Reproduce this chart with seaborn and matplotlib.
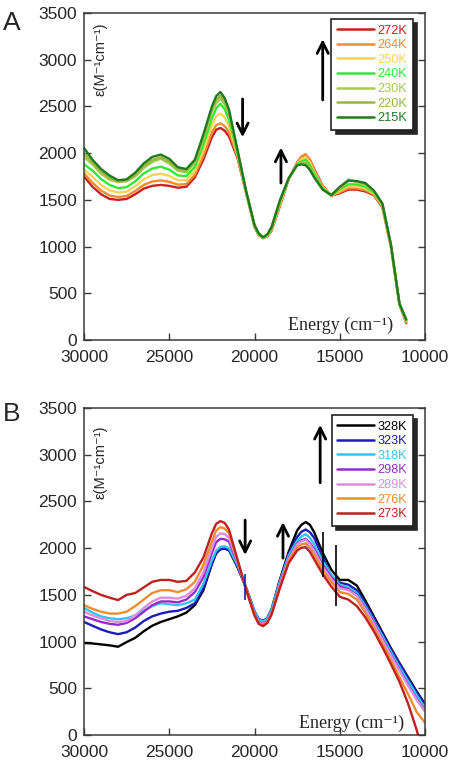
import numpy as np
import pandas as pd
import matplotlib
matplotlib.use("Agg")
import matplotlib.pyplot as plt
import seaborn as sns

# ---------------- data: panel A ----------------
energy_a = [30000, 29500, 29000, 28500, 28000, 27500, 27000, 26500, 26000, 25500,
            25000, 24500, 24000, 23500, 23000, 22500, 22000, 21500, 21000, 20500,
            20000, 19500, 19000, 18500, 18000, 17500, 17000, 16500, 16000, 15500,
            15000, 14500, 14000, 13500, 13000, 12500, 12000, 11500, 11100]
# extra readings around the band extrema
energy_extra = [22250, 21750, 19750, 19250, 17250, 16750]
temps_a = ["272K", "264K", "250K", "240K", "230K", "220K", "215K"]
colors_a = ["#c8201e", "#f28a30", "#f7d35a", "#33e833", "#a8c850", "#96b83c", "#1f7a1f"]
eps_272 = [1750, 1640, 1560, 1510, 1500, 1510, 1560, 1620, 1650, 1660, 1650, 1630, 1640, 1740, 1930, 2170, 2270, 2180, 1950, 1580,
           1210, 1090, 1170, 1440, 1720, 1900, 1980, 1830, 1650, 1545, 1570, 1610, 1610, 1590, 1550, 1420, 1000, 380, 180]
eps_264 = [1785, 1683, 1600, 1547, 1531, 1541, 1594, 1660, 1696, 1709, 1693, 1663, 1668, 1768, 1970, 2221, 2320, 2226, 1965, 1583,
           1213, 1092, 1176, 1449, 1722, 1896, 1990, 1820, 1645, 1546, 1580, 1624, 1623, 1603, 1557, 1426, 1003, 381, 190]
eps_250 = [1825, 1747, 1660, 1602, 1578, 1588, 1645, 1720, 1765, 1780, 1757, 1711, 1710, 1810, 2030, 2296, 2425, 2295, 1985, 1587,
           1217, 1094, 1185, 1462, 1724, 1889, 1960, 1800, 1635, 1547, 1596, 1645, 1643, 1623, 1568, 1435, 1007, 384, 200]
eps_240 = [1880, 1814, 1722, 1660, 1626, 1636, 1698, 1782, 1836, 1855, 1824, 1762, 1754, 1854, 2092, 2374, 2530, 2360, 2005, 1592,
           1222, 1096, 1194, 1476, 1726, 1882, 1930, 1785, 1625, 1548, 1612, 1667, 1664, 1644, 1580, 1444, 1012, 386, 205]
eps_230 = [1960, 1878, 1781, 1715, 1690, 1699, 1749, 1841, 1904, 1940, 1888, 1810, 1796, 1896, 2151, 2449, 2585, 2420, 2022, 1596,
           1226, 1098, 1203, 1489, 1728, 1875, 1900, 1765, 1617, 1549, 1627, 1720, 1690, 1664, 1591, 1453, 1016, 388, 210]
eps_220 = [2000, 1901, 1803, 1735, 1700, 1710, 1767, 1863, 1929, 1955, 1911, 1828, 1811, 1911, 2173, 2476, 2615, 2445, 2028, 1598,
           1228, 1099, 1206, 1494, 1729, 1873, 1890, 1755, 1614, 1550, 1633, 1710, 1700, 1675, 1595, 1456, 1018, 389, 215]
eps_215 = [2055, 1930, 1830, 1760, 1710, 1720, 1790, 1890, 1960, 1985, 1940, 1850, 1830, 1930, 2200, 2500, 2655, 2470, 2035, 1600,
           1230, 1100, 1210, 1500, 1730, 1870, 1870, 1740, 1610, 1550, 1640, 1705, 1700, 1680, 1600, 1460, 1020, 390, 220]
extra_272 = [2250, 2240, 1120, 1110, 1960, 1930]
extra_264 = [2300, 2290, 1122, 1113, 1965, 1930]
extra_250 = [2395, 2380, 1126, 1117, 1935, 1900]
extra_240 = [2480, 2470, 1130, 1120, 1910, 1870]
extra_230 = [2535, 2525, 1135, 1125, 1895, 1845]
extra_220 = [2570, 2555, 1137, 1127, 1888, 1830]
extra_215 = [2610, 2590, 1140, 1130, 1880, 1820]
series_a = [eps_272, eps_264, eps_250, eps_240, eps_230, eps_220, eps_215]
extras_a = [extra_272, extra_264, extra_250, extra_240, extra_230, extra_220, extra_215]

# ---------------- data: panel B ----------------
energy_b = [30000, 29500, 29000, 28500, 28000, 27500, 27000, 26500, 26000, 25500,
            25000, 24500, 24000, 23500, 23000, 22500, 22000, 21500, 21000, 20500,
            20000, 19500, 19000, 18500, 18000, 17500, 17000, 16500, 16000, 15500,
            15000, 14500, 14000, 13500, 13000, 12500, 12000, 11500, 11000, 10500, 10000]
temps_b = ["328K", "323K", "318K", "298K", "289K", "276K", "273K"]
colors_b = ["#000000", "#1c1cb8", "#33c4f0", "#9a2ac8", "#dc8ee0", "#f08c30", "#c0201e"]
eps_328 = [985, 980, 970, 960, 945, 995, 1040, 1110, 1170, 1210, 1240, 1270, 1310, 1390, 1550, 1830, 1990, 1980, 1800, 1580,
           1320, 1220, 1345, 1670, 1960, 2190, 2280, 2170, 1950, 1770, 1660, 1660, 1600, 1440, 1270, 1100, 930, 770, 620, 470, 330]
eps_323 = [1210, 1170, 1130, 1100, 1080, 1100, 1150, 1220, 1270, 1300, 1320, 1330, 1360, 1410, 1570, 1840, 1990, 1980, 1800, 1580,
           1320, 1220, 1345, 1660, 1940, 2120, 2200, 2110, 1900, 1700, 1630, 1610, 1550, 1410, 1250, 1085, 920, 765, 610, 460, 320]
eps_318 = [1360, 1310, 1270, 1250, 1240, 1250, 1280, 1330, 1380, 1410, 1400, 1390, 1410, 1450, 1620, 1870, 2015, 2000, 1820, 1580,
           1320, 1215, 1340, 1650, 1920, 2080, 2150, 2040, 1860, 1720, 1610, 1580, 1520, 1380, 1220, 1060, 890, 730, 580, 430, 290]
eps_298 = [1270, 1240, 1210, 1190, 1180, 1200, 1250, 1320, 1390, 1430, 1430, 1420, 1450, 1530, 1690, 1950, 2100, 2070, 1850, 1570,
           1295, 1190, 1310, 1620, 1890, 2050, 2100, 1990, 1820, 1690, 1590, 1560, 1500, 1360, 1200, 1030, 860, 700, 540, 390, 255]
eps_289 = [1320, 1280, 1250, 1220, 1210, 1220, 1280, 1360, 1430, 1470, 1470, 1460, 1490, 1570, 1740, 2000, 2160, 2110, 1860, 1570,
           1290, 1185, 1305, 1610, 1880, 2040, 2090, 1970, 1800, 1670, 1570, 1550, 1490, 1350, 1190, 1020, 850, 690, 530, 380, 250]
eps_276 = [1390, 1350, 1320, 1300, 1300, 1320, 1380, 1450, 1520, 1550, 1550, 1530, 1560, 1640, 1820, 2070, 2225, 2160, 1870, 1560,
           1280, 1170, 1295, 1590, 1860, 2010, 2050, 1930, 1760, 1640, 1530, 1510, 1450, 1310, 1150, 975, 800, 620, 440, 250, 130]
eps_273 = [1585, 1540, 1500, 1470, 1445, 1500, 1520, 1580, 1640, 1660, 1660, 1640, 1650, 1740, 1900, 2160, 2290, 2200, 1880, 1560,
           1280, 1165, 1290, 1580, 1840, 1975, 2010, 1880, 1720, 1590, 1480, 1450, 1380, 1260, 1110, 940, 760, 570, 340, 60, -280]
extra_328 = [1945, 1995, 1240, 1250, 2250, 2250]
extra_323 = [1950, 1995, 1240, 1250, 2175, 2170]
extra_318 = [1975, 2020, 1235, 1245, 2125, 2110]
extra_298 = [2065, 2095, 1210, 1220, 2085, 2055]
extra_289 = [2120, 2150, 1205, 1215, 2075, 2040]
extra_276 = [2190, 2210, 1195, 1205, 2040, 2000]
extra_273 = [2260, 2270, 1190, 1200, 2005, 1960]
series_b = [eps_328, eps_323, eps_318, eps_298, eps_289, eps_276, eps_273]
extras_b = [extra_328, extra_323, extra_318, extra_298, extra_289, extra_276, extra_273]

# instrument spikes visible in panel B (energy, low, high)
spike_e = [16000, 15200, 20550]
spike_lo = [1690, 1380, 1450]
spike_hi = [2170, 2030, 1720]
spike_colors = ["#000000", "#000000", "#1c1cb8"]

# annotation arrows (energy, start, end)
arrows_a = [(20700, 2580, 2170), (18450, 1680, 2060), (16000, 2570, 3220)]
arrows_b = [(20550, 2300, 1926), (18330, 1894, 2280), (16150, 2700, 3320)]

xticks = [30000, 25000, 20000, 15000, 10000]
yticks = [0, 500, 1000, 1500, 2000, 2500, 3000, 3500]

# ---------------- style ----------------
sns.set_theme(style="ticks")
plt.rcParams["font.family"] = ["Liberation Sans", "DejaVu Sans"]
plt.rcParams["axes.edgecolor"] = "#3a3a3a"
plt.rcParams["axes.linewidth"] = 1.1

fig = plt.figure(figsize=(4.5, 7.62), dpi=100)
axA = fig.add_axes([0.1867, 0.5538, 0.7578, 0.4291])
axB = fig.add_axes([0.1867, 0.0354, 0.7578, 0.4291])


def draw_panel(ax, energy, temps, colors, series, extras, arrows, leg_anchor, eps_pos, en_pos):
    frames = []
    for t, s, e in zip(temps, series, extras):
        frames.append(pd.DataFrame({"energy": list(energy) + list(energy_extra),
                                    "eps": list(s) + list(e), "T": t}))
    df = pd.concat(frames, ignore_index=True)
    sns.lineplot(data=df, x="energy", y="eps", hue="T", hue_order=temps,
                 palette=dict(zip(temps, colors)), estimator=None, sort=True,
                 linewidth=1.7, ax=ax)
    ax.set_xlim(30000, 10000)
    ax.set_ylim(0, 3500)
    ax.set_xticks(xticks)
    ax.set_xticklabels([str(v) for v in xticks])
    ax.set_yticks(yticks)
    ax.set_yticklabels([str(v) for v in yticks])
    ax.set_xlabel("")
    ax.set_ylabel("")
    ax.tick_params(axis="both", direction="in", length=5, width=1, color="#3a3a3a",
                   labelsize=12.5, right=True, top=False)
    ax.tick_params(axis="x", pad=7)
    ax.tick_params(axis="y", pad=5)
    for sp in ax.spines.values():
        sp.set_visible(True)

    old = ax.get_legend()
    handles = old.legend_handles
    labels = [t.get_text() for t in old.get_texts()]
    old.remove()
    for h in handles:
        h.set_linewidth(1.8)
    leg = ax.legend(handles, labels, loc="upper right", bbox_to_anchor=leg_anchor,
                    borderaxespad=0, fontsize=9.2, handlelength=2.9,
                    handletextpad=0.25, labelspacing=0.2, borderpad=0.45,
                    fancybox=False, framealpha=1,
                    shadow={"color": "0.15", "alpha": 1, "ox": 3, "oy": -3})
    leg.get_frame().set_edgecolor("#222222")
    leg.get_frame().set_linewidth(1.2)
    for t, c in zip(leg.get_texts(), colors):
        t.set_color(c)

    for x, y0, y1 in arrows:
        ax.annotate("", xy=(x, y1), xytext=(x, y0),
                    arrowprops=dict(arrowstyle="->,head_length=0.4,head_width=0.2",
                                    lw=2, color="black", mutation_scale=20,
                                    shrinkA=0, shrinkB=0))

    ax.text(eps_pos[0], eps_pos[1], "ε(M⁻¹cm⁻¹)", transform=ax.transAxes,
            rotation=90, ha="center", va="top", fontsize=10.5,
            family=["Liberation Sans", "DejaVu Sans"])
    ax.text(en_pos[0], en_pos[1], "Energy (cm⁻¹)", transform=ax.transAxes,
            ha="right", va="baseline", fontsize=13,
            family=["Liberation Serif", "DejaVu Serif"])


draw_panel(axA, energy_a, temps_a, colors_a, series_a, extras_a, arrows_a,
           (0.9648, 0.9817), (0.047, 0.97), (0.905, 0.03))
draw_panel(axB, energy_b, temps_b, colors_b, series_b, extras_b, arrows_b,
           (0.9648, 0.9786), (0.047, 0.948), (0.94, 0.022))

axB.vlines(spike_e, spike_lo, spike_hi, colors=spike_colors, linewidth=1.2, zorder=3)

fig.text(3 / 450, 0.985, "A", fontsize=19, ha="left", va="top")
fig.text(3 / 450, 0.473, "B", fontsize=19, ha="left", va="top")

fig.savefig("out.png", dpi=100, facecolor="white")
